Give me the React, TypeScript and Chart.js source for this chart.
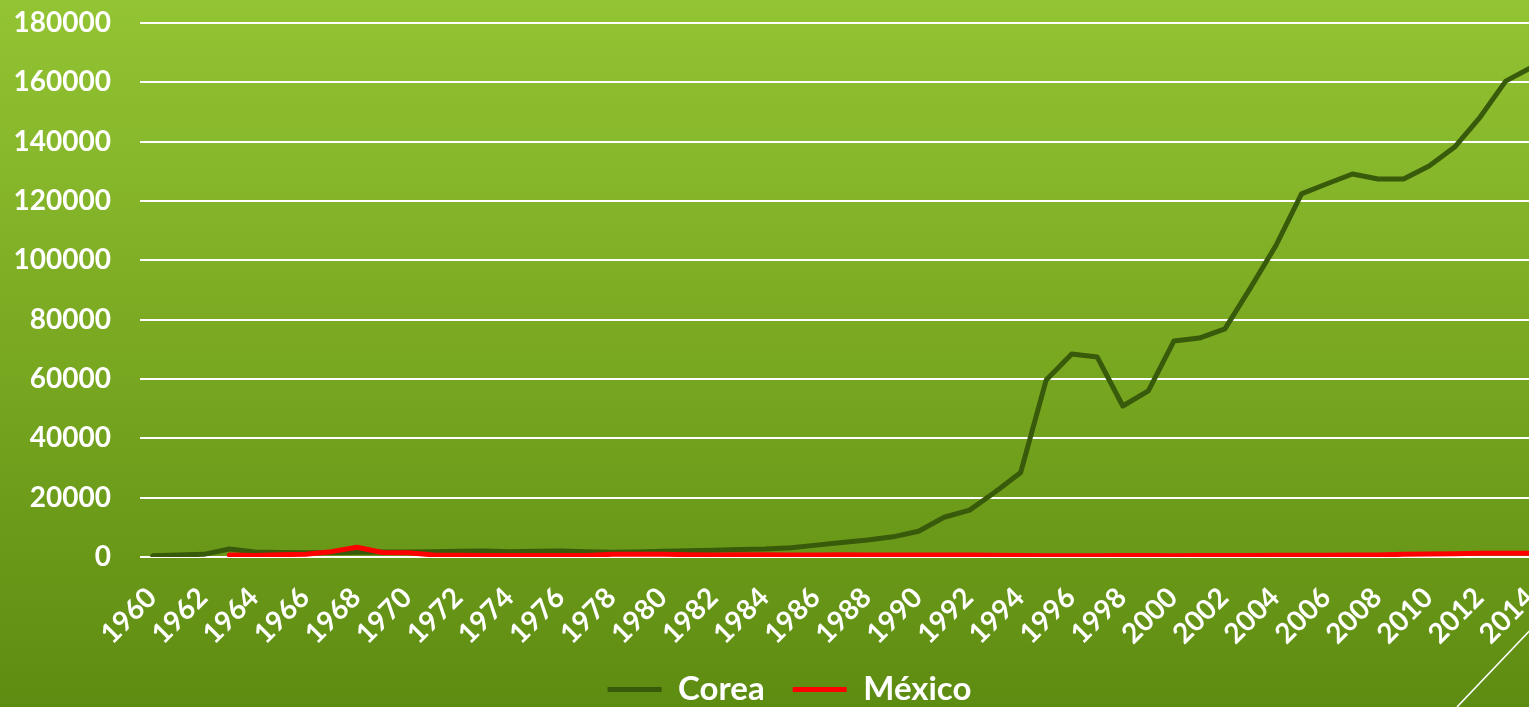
import React, { useEffect, useRef } from "react";
import { Chart, registerables } from "chart.js";

Chart.register(...registerables);

const years: string[] = [
  "1960","1961","1962","1963","1964","1965","1966","1967","1968","1969",
  "1970","1971","1972","1973","1974","1975","1976","1977","1978","1979",
  "1980","1981","1982","1983","1984","1985","1986","1987","1988","1989",
  "1990","1991","1992","1993","1994","1995","1996","1997","1998","1999",
  "2000","2001","2002","2003","2004","2005","2006","2007","2008","2009",
  "2010","2011","2012","2013","2014",
];

const corea: number[] = [
  400, 700, 900, 2700, 1700, 1500, 1400, 1500, 1600, 1700,
  1700, 1800, 1900, 2000, 1800, 1900, 2000, 1800, 1600, 1700,
  1900, 2100, 2300, 2500, 2700, 3100, 4000, 4900, 5700, 6800,
  8700, 13400, 15800, 21900, 28500, 59700, 68400, 67400, 50900, 56000,
  72800, 73800, 76900, 90700, 105000, 122400, 125800, 129100, 127400, 127400,
  131800, 138200, 148300, 160400, 165000,
];

const mexico: (number | null)[] = [
  null, null, null, 700, 500, 800, 900, 1800, 3300, 1500,
  1400, 700, 600, 500, 500, 500, 500, 500, 900, 900,
  900, 800, 700, 800, 800, 700, 700, 800, 700, 700,
  700, 700, 700, 600, 500, 400, 400, 400, 500, 500,
  400, 500, 500, 500, 600, 600, 600, 700, 700, 900,
  1000, 1100, 1300, 1300, 1300,
];

const seriesNames: string[] = ["Corea", "México"];
const yMin = 0;
const yMax = 180000;
const yStep = 20000;

const FONT = "Lato, 'Open Sans', 'DejaVu Sans', sans-serif";

const backgroundPlugin = {
  id: "bgGradient",
  beforeDraw(chart: any) {
    const { ctx, width, height } = chart;
    ctx.save();
    const g = ctx.createLinearGradient(0, 0, 0, height);
    g.addColorStop(0, "#93c433");
    g.addColorStop(0.5, "#79a821");
    g.addColorStop(1, "#5d8c12");
    ctx.fillStyle = g;
    ctx.fillRect(0, 0, width, height);
    ctx.restore();
  },
};

const decorPlugin = {
  id: "decorLine",
  afterDraw(chart: any) {
    const { ctx, height } = chart;
    ctx.save();
    ctx.strokeStyle = "#ffffff";
    ctx.lineWidth = 1.6;
    ctx.beginPath();
    ctx.moveTo(1457, height);
    ctx.lineTo(1457 + 160, height - 168);
    ctx.stroke();
    ctx.restore();
  },
};

export default function App() {
  const canvasRef = useRef<HTMLCanvasElement | null>(null);

  useEffect(() => {
    if (!canvasRef.current) return;
    const chart = new Chart(canvasRef.current, {
      type: "line",
      data: {
        labels: years,
        datasets: [
          {
            label: seriesNames[0],
            data: corea,
            borderColor: "#385a0b",
            backgroundColor: "#385a0b",
            borderWidth: 5,
            borderCapStyle: "round",
            borderJoinStyle: "round",
            pointRadius: 0,
            tension: 0,
            order: 1,
          },
          {
            label: seriesNames[1],
            data: mexico,
            borderColor: "#ff0000",
            backgroundColor: "#ff0000",
            borderWidth: 5,
            borderCapStyle: "round",
            borderJoinStyle: "round",
            pointRadius: 0,
            tension: 0,
            order: 0,
          },
        ],
      },
      options: {
        animation: false,
        responsive: false,
        layout: { padding: { left: 0, top: 23, right: 0, bottom: -9 } },
        plugins: {
          tooltip: { enabled: false },
          legend: {
            position: "bottom",
            labels: {
              color: "#ffffff",
              font: { family: FONT, size: 33, weight: "bold" },
              usePointStyle: true,
              pointStyle: "line",
              pointStyleWidth: 54,
              boxHeight: 30,
              padding: 28,
              sort: (a: any, b: any) => a.datasetIndex - b.datasetIndex,
            },
          },
        },
        scales: {
          x: {
            type: "category",
            offset: true,
            grid: { display: false, drawTicks: false },
            border: { display: false },
            ticks: {
              color: "#ffffff",
              font: { family: FONT, size: 28, weight: "bold" },
              autoSkip: false,
              minRotation: 45,
              maxRotation: 45,
              padding: 24,
              labelOffset: -1,
              callback: (_v: any, i: number) => (i % 2 === 0 ? years[i] : ""),
            },
            afterFit: (scale: any) => {
              scale.height = 88;
            },
          },
          y: {
            min: yMin,
            max: yMax,
            grid: { color: "#ffffff", lineWidth: 2, drawTicks: false },
            border: { display: false },
            ticks: {
              stepSize: yStep,
              color: "#ffffff",
              font: { family: FONT, size: 28, weight: "bold" },
              padding: 29,
              callback: (v: any) => String(v),
            },
            afterFit: (scale: any) => {
              scale.width = 140;
              scale.paddingTop = 0;
            },
          },
        },
      },
      plugins: [backgroundPlugin, decorPlugin],
    });
    return () => chart.destroy();
  }, []);

  return (
    <div
      style={{
        position: "fixed",
        left: 0,
        top: 0,
        width: 1529,
        height: 707,
        overflow: "hidden",
      }}
    >
      <canvas
        ref={canvasRef}
        width={1579}
        height={707}
        style={{ display: "block", position: "absolute", left: 0, top: 0 }}
      />
    </div>
  );
}
